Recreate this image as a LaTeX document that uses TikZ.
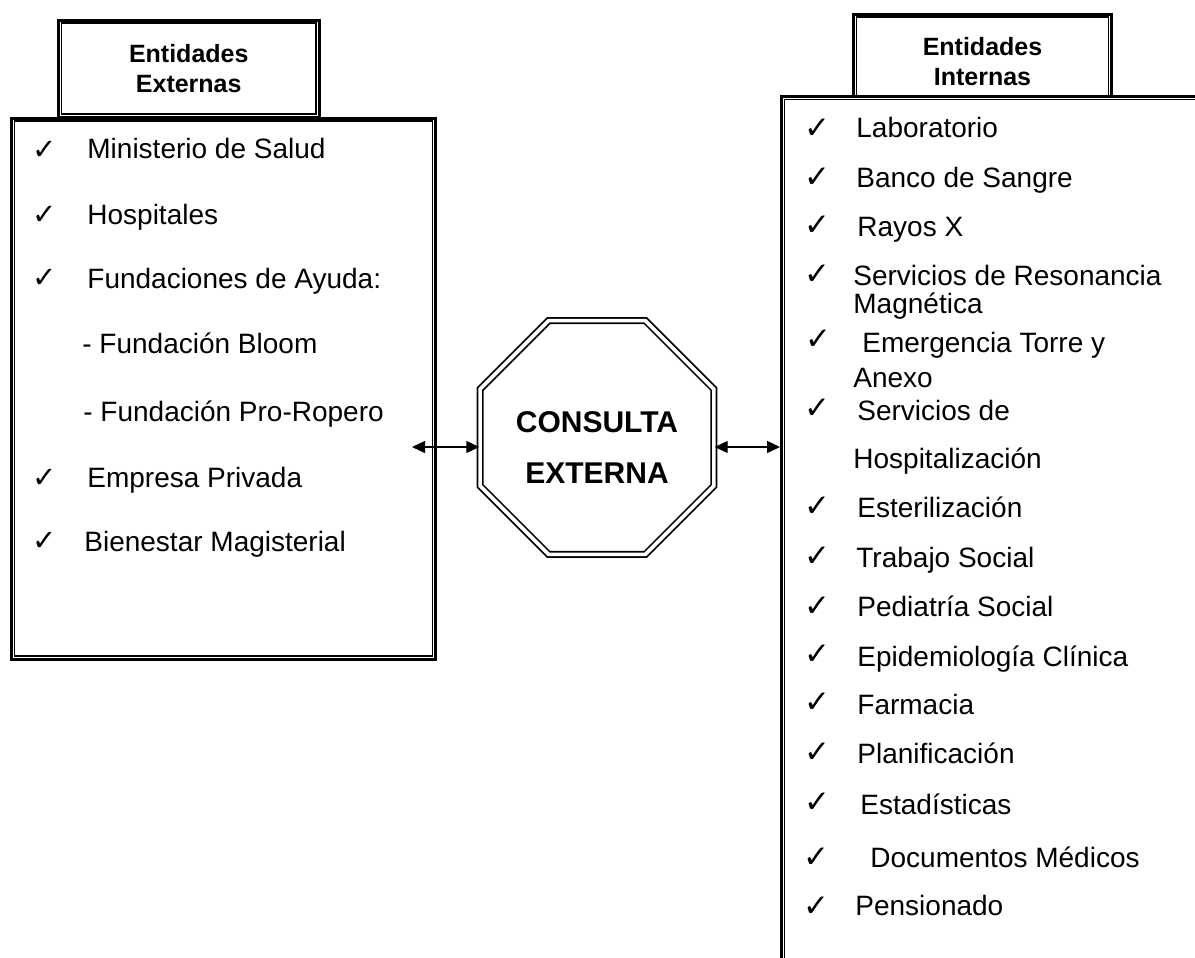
\documentclass[tikz,border=0pt]{standalone}
\usepackage{fontspec}
\setmainfont{Liberation Sans}
\newfontfamily\simbolos{DejaVu Sans}
\usetikzlibrary{arrows.meta,shapes.geometric}

\begin{document}
\begin{tikzpicture}[x=0.5pt,y=-0.5pt,
	marco/.style={draw, line width=1.5pt, fill=white, inner sep=0pt},
	fino/.style={draw, line width=0.65pt},
	titulo/.style={font=\bfseries\fontsize{12.5}{15}\selectfont, align=center},
	item/.style={anchor=base west, inner sep=0pt, font=\fontsize{14}{14}\selectfont},
	chkext/.style={inner sep=0pt, font=\simbolos\fontsize{14.5}{14.5}\selectfont},
	chkint/.style={inner sep=0pt, font=\simbolos\fontsize{15.5}{15.5}\selectfont},
	flecha/.style={line width=0.7pt, {Triangle[length=6.5pt,width=6pt]}-{Triangle[length=6.5pt,width=6pt]}}]
	\useasboundingbox (0,0) rectangle (1195,958);
	\clip (0,0) rectangle (1195,958);
	% cajas
	\node[marco, minimum width=130.25pt, minimum height=48.5pt] (titext) at (188.75,68.5) {};
	\draw[fino] ([shift={(4.5,4.5)}]titext.north west) rectangle ([shift={(-4.5,-4.5)}]titext.south east);
	\node[titulo] (tt1) at (188.75,68.5) {Entidades\\Externas};
	\node[marco, minimum width=212pt, minimum height=270.5pt] (cajaext) at (223.5,388.5) {};
	\draw[fino] ([shift={(4.5,4.5)}]cajaext.north west) rectangle ([shift={(-4.5,-4.5)}]cajaext.south east);
	\node[marco, minimum width=129pt, minimum height=48pt] (titint) at (982.5,62) {};
	\draw[fino] ([shift={(4.5,4.5)}]titint.north west) rectangle ([shift={(-4.5,-4.5)}]titint.south east);
	\node[titulo] (tt2) at (982.5,62) {Entidades\\Internas};
	\node[marco, minimum width=224.25pt, minimum height=451.75pt] (cajaint) at (1005.75,548.25) {};
	\draw[fino] ([shift={(4.5,4.5)}]cajaint.north west) rectangle ([shift={(-4.5,-4.5)}]cajaint.south east);
	% centro
	\node[regular polygon, regular polygon sides=8, minimum size=126.5pt, inner sep=0pt,
		draw, line width=0.85pt, double, double distance=1.85pt] (consulta) at (597,437.5) {};
	\node[font=\bfseries\fontsize{15}{25.5}\selectfont, align=center] (tconsulta) at (597,447.5) {CONSULTA\\EXTERNA};
	\coordinate (fa) at (412,447);
	\draw[flecha] (fa) -- (consulta.west |- fa);
	\draw[flecha] (consulta.east |- fa) -- (cajaint.west |- fa);
	% externas
	\node[chkext] (ce1) at (45,150) {✓};
	\node[item] (e1) at (87,158) {Ministerio de Salud};
	\node[chkext] (ce2) at (45,215) {✓};
	\node[item] (e2) at (87,224.5) {Hospitales};
	\node[chkext] (ce3) at (45,278) {✓};
	\node[item] (e3) at (87,288) {Fundaciones de Ayuda:};
	\node[item] (e4) at (82,353) {- Fundación Bloom};
	\node[item] (e5) at (83,421) {- Fundación Pro-Ropero};
	\node[chkext] (ce6) at (45,478) {✓};
	\node[item] (e6) at (87,487) {Empresa Privada};
	\node[chkext] (ce7) at (45,541) {✓};
	\node[item] (e7) at (84,551) {Bienestar Magisterial};
	% internas
	\node[chkint] (ci1) at (817,129) {✓};
	\node[item] (i1) at (856,137) {Laboratorio};
	\node[chkint] (ci2) at (817,178) {✓};
	\node[item] (i2) at (856,187) {Banco de Sangre};
	\node[chkint] (ci3) at (817,226) {✓};
	\node[item] (i3) at (857,236) {Rayos X};
	\node[chkint] (ci4) at (817,275) {✓};
	\node[item] (i4) at (853,285) {Servicios de Resonancia};
	\node[item] (i4b) at (853,313) {Magnética};
	\node[chkint] (ci5) at (818,340) {✓};
	\node[item] (i5) at (862,352) {Emergencia Torre y};
	\node[item] (i5b) at (853,387) {Anexo};
	\node[chkint] (ci6) at (817,409) {✓};
	\node[item] (i6) at (857,420) {Servicios de};
	\node[item] (i6b) at (853,468) {Hospitalización};
	\node[chkint] (ci7) at (817,507) {✓};
	\node[item] (i7) at (857,517) {Esterilización};
	\node[chkint] (ci8) at (817,557) {✓};
	\node[item] (i8) at (856,567) {Trabajo Social};
	\node[chkint] (ci9) at (817,607) {✓};
	\node[item] (i9) at (857,616) {Pediatría Social};
	\node[chkint] (ci10) at (817,655) {✓};
	\node[item] (i10) at (857,666) {Epidemiología Clínica};
	\node[chkint] (ci11) at (817,703) {✓};
	\node[item] (i11) at (857,714) {Farmacia};
	\node[chkint] (ci12) at (817,753) {✓};
	\node[item] (i12) at (857,763) {Planificación};
	\node[chkint] (ci13) at (817,803) {✓};
	\node[item] (i13) at (860,814) {Estadísticas};
	\node[chkint] (ci14) at (816,858) {✓};
	\node[item] (i14) at (870,867) {Documentos Médicos};
	\node[chkint] (ci15) at (816,907) {✓};
	\node[item] (i15) at (855,915) {Pensionado};
\end{tikzpicture}
\end{document}
